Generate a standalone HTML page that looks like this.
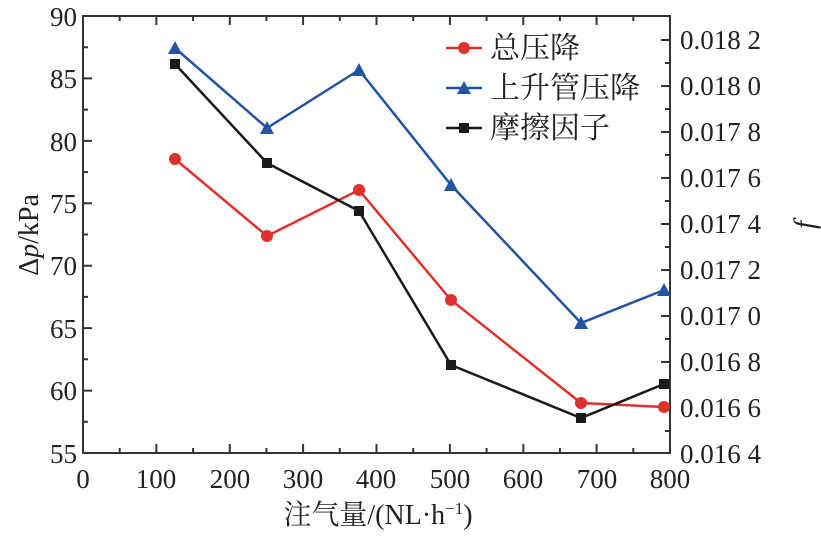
<!DOCTYPE html>
<html><head><meta charset="utf-8"><style>
body{margin:0;background:#fff}
text{font-family:"Liberation Serif","Noto Serif CJK SC",serif;fill:#222}
</style></head><body>
<svg width="821" height="535" xmlns="http://www.w3.org/2000/svg">
<g stroke="#333" stroke-width="2" fill="none">
<rect x="83" y="16" width="587" height="437"/>
<path d="M156.4 453v-9M229.8 453v-9M303.1 453v-9M376.5 453v-9M449.9 453v-9M523.3 453v-9M596.6 453v-9
M119.7 453v-5M193.1 453v-5M266.4 453v-5M339.8 453v-5M413.2 453v-5M486.6 453v-5M559.9 453v-5M633.3 453v-5
M156.4 16v9M229.8 16v9M303.1 16v9M376.5 16v9M449.9 16v9M523.3 16v9M596.6 16v9
M119.7 16v5M193.1 16v5M266.4 16v5M339.8 16v5M413.2 16v5M486.6 16v5M559.9 16v5M633.3 16v5"/>
<path d="M83 78.4h9M83 140.9h9M83 203.3h9M83 265.7h9M83 328.1h9M83 390.6h9
M83 47.2h5M83 109.6h5M83 172.1h5M83 234.5h5M83 296.9h5M83 359.3h5M83 421.8h5"/>
<path d="M670 40h-9M670 86h-9M670 132h-9M670 178h-9M670 224h-9M670 270h-9M670 316h-9M670 362h-9M670 408h-9
M670 63h-5M670 109h-5M670 155h-5M670 201h-5M670 247h-5M670 293h-5M670 339h-5M670 385h-5M670 431h-5"/>
</g>
<g font-size="27" text-anchor="end">
<text x="77" y="26">90</text><text x="77" y="88">85</text><text x="77" y="151">80</text>
<text x="77" y="213">75</text><text x="77" y="275">70</text><text x="77" y="338">65</text>
<text x="77" y="400">60</text><text x="77" y="463">55</text>
</g>
<g font-size="27" text-anchor="middle">
<text x="83" y="488">0</text><text x="156" y="488">100</text><text x="230" y="488">200</text>
<text x="303" y="488">300</text><text x="376" y="488">400</text><text x="450" y="488">500</text>
<text x="523" y="488">600</text><text x="597" y="488">700</text><text x="670" y="488">800</text>
</g>
<g font-size="27">
<text x="680" y="49">0.018 2</text><text x="680" y="95">0.018 0</text><text x="680" y="141">0.017 8</text>
<text x="680" y="187">0.017 6</text><text x="680" y="233">0.017 4</text><text x="680" y="279">0.017 2</text>
<text x="680" y="325">0.017 0</text><text x="680" y="371">0.016 8</text><text x="680" y="417">0.016 6</text>
<text x="680" y="463">0.016 4</text>
</g>
<text x="378" y="524" font-size="28" text-anchor="middle">注气量/(NL·h<tspan font-size="17" dy="-10">−1</tspan><tspan dy="10">)</tspan></text>
<text transform="translate(38 235) rotate(-90)" font-size="28" text-anchor="middle">Δ<tspan font-style="italic">p</tspan>/kPa</text>
<text transform="translate(814 225) rotate(-90)" font-size="30" font-style="italic" text-anchor="middle">f</text>
<polyline points="175,159 267,236 359,190 451,300 581,403 664,407" fill="none" stroke="#e0302c" stroke-width="2.5"/>
<g fill="#e0302c"><circle cx="175" cy="159" r="6"/><circle cx="267" cy="236" r="6"/><circle cx="359" cy="190" r="6"/><circle cx="451" cy="300" r="6"/><circle cx="581" cy="403" r="6"/><circle cx="664" cy="407" r="6"/></g>
<polyline points="175,48 267,128 359,70 451,185 581,323 664,290" fill="none" stroke="#2452a4" stroke-width="2.5"/>
<g fill="#2452a4">
<polygon points="175,41 182,54 168,54"/><polygon points="267,121 274,134 260,134"/><polygon points="359,63 366,76 352,76"/>
<polygon points="451,178 458,191 444,191"/><polygon points="581,316 588,329 574,329"/><polygon points="664,283 671,296 657,296"/></g>
<polyline points="175,64 267,163 359,211 451,365 581,418 664,384" fill="none" stroke="#1a1a1a" stroke-width="2.5"/>
<g fill="#1a1a1a"><rect x="170" y="59" width="10" height="10"/><rect x="262" y="158" width="10" height="10"/><rect x="354" y="206" width="10" height="10"/><rect x="446" y="360" width="10" height="10"/><rect x="576" y="413" width="10" height="10"/><rect x="659" y="379" width="10" height="10"/></g>
<line x1="446" y1="48" x2="482" y2="48" stroke="#e0302c" stroke-width="2.5"/><circle cx="464" cy="48" r="6" fill="#e0302c"/>
<text x="490" y="58" font-size="30">总压降</text>
<line x1="446" y1="88" x2="482" y2="88" stroke="#2452a4" stroke-width="2.5"/><polygon points="464,81 471,94 457,94" fill="#2452a4"/>
<text x="490" y="98" font-size="30">上升管压降</text>
<line x1="446" y1="128" x2="482" y2="128" stroke="#1a1a1a" stroke-width="2.5"/><rect x="459" y="123" width="10" height="10" fill="#1a1a1a"/>
<text x="490" y="138" font-size="30">摩擦因子</text>
</svg>
</body></html>
